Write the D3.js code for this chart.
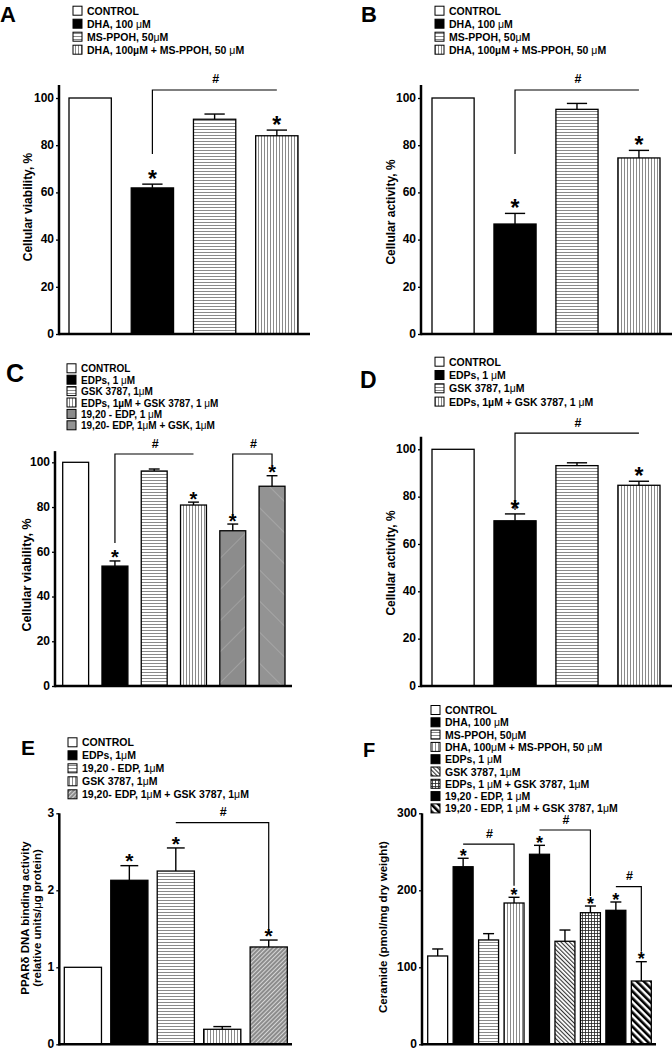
<!DOCTYPE html>
<html><head><meta charset="utf-8">
<script src="https://cdn.jsdelivr.net/npm/d3@7"></script>
<style>
body{margin:0;background:#fff}
svg{display:block}
text{font-family:"Liberation Sans",Arial,Helvetica,sans-serif;font-weight:bold;fill:#000}
</style>
</head><body>
<svg id="fig" width="672" height="1050"></svg>
<script>
// ---------------- DATA ----------------
// Greek mu (U+03BC) is drawn thin, micro sign (U+00B5) bold, as in the reference.
const aCategories = ["CONTROL", "DHA, 100 \u03bcM", "MS-PPOH, 50\u03bcM", "DHA, 100\u00b5M + MS-PPOH, 50 \u03bcM"];
const aValues = [100, 61.9, 91.0, 84.0];
const aErrors = [0, 1.6, 2.2, 2.4];
const aStars = [false, true, false, true];
const aBrackets = [[1, 3, 103.4, 76.3, null]];

const bCategories = ["CONTROL", "DHA, 100 \u03bcM", "MS-PPOH, 50\u03bcM", "DHA, 100\u00b5M + MS-PPOH, 50 \u03bcM"];
const bValues = [100, 46.6, 95.2, 74.6];
const bErrors = [0, 4.5, 2.5, 3.2];
const bStars = [false, true, false, true];
const bBrackets = [[1, 3, 103.4, 76.3, null]];

const cCategories = ["CONTROL", "EDPs, 1 \u03bcM", "GSK 3787, 1\u03bcM", "EDPs, 1\u00b5M + GSK 3787, 1 \u03bcM", "19,20 - EDP, 1 \u03bcM", "19,20- EDP, 1\u03bcM + GSK, 1\u03bcM"];
const cValues = [100, 53.6, 96.1, 80.9, 69.4, 89.3];
const cErrors = [0, 2.3, 0.9, 1.3, 3.0, 4.7];
const cStars = [false, true, false, true, true, true];
const cBrackets = [[1, 3, 103.7, 63.9, null], [4, 5, 103.7, 75.5, 98.8]];

const dCategories = ["CONTROL", "EDPs, 1 \u03bcM", "GSK 3787, 1\u03bcM", "EDPs, 1\u00b5M + GSK 3787, 1 \u03bcM"];
const dValues = [100, 69.8, 93.1, 84.8];
const dErrors = [0, 2.9, 1.2, 1.7];
const dStars = [false, true, false, true];
const dBrackets = [[1, 3, 106.8, 74.4, null]];

const eCategories = ["CONTROL", "EDPs, 1\u03bcM", "19,20 - EDP, 1\u03bcM", " GSK 3787, 1\u03bcM", "19,20- EDP, 1\u03bcM + GSK 3787, 1\u03bcM"];
const eValues = [1.0, 2.13, 2.25, 0.195, 1.264];
const eErrors = [0, 0.19, 0.30, 0.035, 0.09];
const eStars = [false, true, true, false, true];
const eBrackets = [[2, 4, 2.88, null, 1.47]];

const fCategories = ["CONTROL", "DHA, 100 \u03bcM", "MS-PPOH, 50\u03bcM", "DHA, 100\u03bcM + MS-PPOH, 50 \u03bcM", "EDPs, 1 \u03bcM", "GSK 3787, 1\u03bcM", "EDPs, 1 \u03bcM + GSK 3787, 1\u03bcM", "19,20 - EDP, 1 \u03bcM", "19,20 - EDP, 1 \u03bcM + GSK 3787, 1\u03bcM"];
const fValues = [114.7, 230.6, 135.5, 183.5, 246.8, 133.8, 170.9, 174.0, 82.2];
const fErrors = [9.1, 11.0, 8.2, 7.4, 11.6, 14.6, 8.7, 10.8, 25.1];
const fStars = [false, true, false, true, true, false, true, true, true];
const fBrackets = [[1, 3, 260, null, 206], [4, 6, 278.3, null, 192.6], [7, 8, 204.7, null, 120.3]];

const percentTicks = [0, 20, 40, 60, 80, 100];
const eTicks = [0, 1, 2, 3];
const fTicks = [0, 100, 200, 300];

// ---------------- STYLES (fills per bar) ----------------
const fourFills = ["white", "black", "hlines", "vlines"];
const cFills = ["white", "black", "hlines", "vlines", "grayDark", "grayMid"];
const eFills = ["white", "black", "hlines", "vlines", "diagGray"];
const fFills = ["white", "black", "hlines", "vlines", "black", "diagThin", "grid", "black", "boldStripes"];

// ---------------- SVG / PATTERNS ----------------
const svg = d3.select("#fig");
const defs = svg.append("defs");

function pat(id, w, h, transform) {
  const p = defs.append("pattern").attr("id", id).attr("patternUnits", "userSpaceOnUse")
    .attr("width", w).attr("height", h);
  if (transform) p.attr("patternTransform", transform);
  return p;
}
{
  let p = pat("hlines", 4, 3);
  p.append("rect").attr("width", 4).attr("height", 3).attr("fill", "#fff");
  p.append("rect").attr("y", 0).attr("width", 4).attr("height", 1).attr("fill", "#8a8a8a");
  p = pat("vlines", 3, 4);
  p.append("rect").attr("width", 3).attr("height", 4).attr("fill", "#fff");
  p.append("rect").attr("x", 0).attr("width", 1).attr("height", 4).attr("fill", "#8a8a8a");
  p = pat("grayDark", 22, 22, "rotate(45)");
  p.append("rect").attr("width", 22).attr("height", 22).attr("fill", "#8c8c8c");
  p.append("rect").attr("width", 0.5).attr("height", 22).attr("fill", "#b4b4b4");
  p = pat("grayMid", 22, 22, "rotate(-45)");
  p.append("rect").attr("width", 22).attr("height", 22).attr("fill", "#939393");
  p.append("rect").attr("width", 0.5).attr("height", 22).attr("fill", "#bababa");
  p = pat("diagGray", 3, 3, "rotate(45)");
  p.append("rect").attr("width", 3).attr("height", 3).attr("fill", "#8c8c8c");
  p.append("rect").attr("width", 1).attr("height", 3).attr("fill", "#d6d6d6");
  p = pat("diagThin", 3, 3, "rotate(-45)");
  p.append("rect").attr("width", 3).attr("height", 3).attr("fill", "#fff");
  p.append("rect").attr("width", 1.1).attr("height", 3).attr("fill", "#333");
  p = pat("grid", 3, 3);
  p.append("rect").attr("width", 3).attr("height", 3).attr("fill", "#fff");
  p.append("rect").attr("width", 3).attr("height", 0.8).attr("fill", "#222");
  p.append("rect").attr("width", 0.8).attr("height", 3).attr("fill", "#222");
  p = pat("boldStripes", 5, 5, "rotate(-45)");
  p.append("rect").attr("width", 5).attr("height", 5).attr("fill", "#fff");
  p.append("rect").attr("width", 2.6).attr("height", 5).attr("fill", "#000");
}
function fillOf(k) {
  if (k === "white") return "#fff";
  if (k === "black") return "#000";
  return "url(#" + k + ")";
}

// write a label with thin Greek mu
function richText(sel, str) {
  const parts = str.split(/(\u03bc)/);
  parts.forEach(s => {
    if (!s) return;
    const t = sel.append("tspan").text(s);
    if (s === "\u03bc") t.style("font-weight", "normal");
  });
}

// ---------------- PANEL DRAWER ----------------
function drawPanel(cfg) {
  const g = svg.append("g");
  const y = d3.scaleLinear().domain([0, cfg.maxTick]).range([cfg.yBase, cfg.yMax]);
  const x = d3.scaleBand().domain(cfg.categories).range(cfg.barRange)
    .paddingInner(cfg.padInner).paddingOuter(0);
  const bw = x.bandwidth();
  const rows = cfg.categories.map((c, i) => ({
    cat: c, v: cfg.values[i], e: cfg.errors[i], star: cfg.stars[i], fill: cfg.fills[i]
  }));

  // bars
  g.selectAll("rect.bar").data(rows).join("rect").attr("class", "bar")
    .attr("x", d => x(d.cat)).attr("width", bw)
    .attr("y", d => y(d.v)).attr("height", d => y(0) - y(d.v))
    .attr("fill", d => fillOf(d.fill)).attr("stroke", "#000").attr("stroke-width", 1.3);

  // error bars
  const eb = rows.filter(d => d.e > 0);
  g.selectAll("line.stem").data(eb).join("line")
    .attr("x1", d => x(d.cat) + bw / 2).attr("x2", d => x(d.cat) + bw / 2)
    .attr("y1", d => y(d.v)).attr("y2", d => y(d.v + d.e))
    .attr("stroke", "#000").attr("stroke-width", 1.4);
  g.selectAll("line.cap").data(eb).join("line")
    .attr("x1", d => x(d.cat) + bw / 2 - bw * cfg.capFrac / 2)
    .attr("x2", d => x(d.cat) + bw / 2 + bw * cfg.capFrac / 2)
    .attr("y1", d => y(d.v + d.e)).attr("y2", d => y(d.v + d.e))
    .attr("stroke", "#000").attr("stroke-width", 1.4);

  // stars
  g.selectAll("text.star").data(rows.filter(d => d.star)).join("text")
    .attr("x", d => x(d.cat) + bw / 2).attr("y", d => y(d.v + d.e) + cfg.starDy)
    .attr("text-anchor", "middle").style("font-size", cfg.starSize + "px").text("*");

  // brackets
  cfg.brackets.forEach(b => {
    const xl = x(cfg.categories[b[0]]) + bw / 2, xr = x(cfg.categories[b[1]]) + bw / 2;
    const yl = y(b[2]);
    const p = d3.path();
    p.moveTo(xl, b[3] != null ? y(b[3]) : yl);
    p.lineTo(xl, yl); p.lineTo(xr, yl);
    if (b[4] != null) p.lineTo(xr, y(b[4]));
    g.append("path").attr("d", p.toString()).attr("fill", "none")
      .attr("stroke", "#000").attr("stroke-width", 1.2);
    g.append("text").attr("x", (xl + xr) / 2 + 1).attr("y", yl - 6.5)
      .attr("text-anchor", "middle").style("font-size", "12.5px").text("#");
  });

  // axes
  const ax = g.append("g").attr("transform", `translate(${cfg.axisX},0)`)
    .call(d3.axisLeft(y).tickValues(cfg.ticks).tickFormat(d3.format("d"))
      .tickSize(3).tickSizeOuter(0).tickPadding(2));
  ax.select(".domain").remove();
  ax.selectAll(".tick line").attr("stroke", "#000").attr("stroke-width", 1.3);
  ax.selectAll(".tick text").attr("dy", "0.27em").style("font-size", "12px")
    .style("font-family", '"Liberation Sans",Arial,sans-serif').style("font-weight", "bold").attr("fill", "#000");
  g.append("line").attr("x1", cfg.axisX).attr("x2", cfg.axisX)
    .attr("y1", y(0) + 1.2).attr("y2", y(cfg.axisTop))
    .attr("stroke", "#000").attr("stroke-width", 2.5);
  g.append("line").attr("x1", cfg.axisX).attr("x2", cfg.xEnd)
    .attr("y1", y(0)).attr("y2", y(0))
    .attr("stroke", "#000").attr("stroke-width", 2.5);

  // y label
  cfg.yLabel.forEach((t, i) => {
    const tx = g.append("text")
      .attr("transform", `translate(${cfg.yLabelX[i]},${cfg.yLabelY}) rotate(-90)`)
      .attr("text-anchor", "middle").style("font-size", cfg.yLabelSize + "px");
    richText(tx, t);
  });

  // legend
  const lg = g.append("g");
  rows.forEach((d, i) => {
    const cy = cfg.legY + i * cfg.legStep;
    lg.append("rect").attr("x", cfg.legX).attr("y", cy - 4.5).attr("width", 9).attr("height", 9)
      .attr("fill", fillOf(d.fill)).attr("stroke", "#000").attr("stroke-width", 1);
    const t = lg.append("text").attr("x", cfg.legX + 14).attr("y", cy + 4)
      .style("font-size", cfg.legSize + "px");
    richText(t, d.cat);
  });

  // panel letter
  g.append("text").attr("x", cfg.letterX).attr("y", cfg.letterY)
    .style("font-size", cfg.letterSize + "px").text(cfg.letter);
}

drawPanel({ letter: "A", letterX: 0, letterY: 22, letterSize: 22,
  categories: aCategories, values: aValues, errors: aErrors, stars: aStars, brackets: aBrackets, fills: fourFills,
  ticks: percentTicks, maxTick: 100, axisTop: 105.5, yBase: 334, yMax: 98, axisX: 59, xEnd: 310,
  barRange: [69, 298], padInner: 0.32, capFrac: 0.48, starSize: 23, starDy: 3,
  yLabel: ["Cellular viability, %"], yLabelX: [32], yLabelY: 207, yLabelSize: 12,
  legX: 73, legY: 10.7, legStep: 13, legSize: 10.5 });

drawPanel({ letter: "B", letterX: 361, letterY: 22, letterSize: 22,
  categories: bCategories, values: bValues, errors: bErrors, stars: bStars, brackets: bBrackets, fills: fourFills,
  ticks: percentTicks, maxTick: 100, axisTop: 105.5, yBase: 334, yMax: 98, axisX: 421, xEnd: 672,
  barRange: [432, 660], padInner: 0.32, capFrac: 0.48, starSize: 23, starDy: 3,
  yLabel: ["Cellular activity, %"], yLabelX: [395], yLabelY: 212, yLabelSize: 12,
  legX: 435, legY: 10.7, legStep: 13, legSize: 10.5 });

drawPanel({ letter: "C", letterX: 6, letterY: 382, letterSize: 25,
  categories: cCategories, values: cValues, errors: cErrors, stars: cStars, brackets: cBrackets, fills: cFills,
  ticks: percentTicks, maxTick: 100, axisTop: 105, yBase: 686, yMax: 462.3, axisX: 55, xEnd: 292,
  barRange: [62.7, 285], padInner: 0.34, capFrac: 0.42, starSize: 20, starDy: 3.5,
  yLabel: ["Cellular viability, %"], yLabelX: [31], yLabelY: 575, yLabelSize: 12.5,
  legX: 67, legY: 368.3, legStep: 11.4, legSize: 10 });

drawPanel({ letter: "D", letterX: 360, letterY: 388, letterSize: 23,
  categories: dCategories, values: dValues, errors: dErrors, stars: dStars, brackets: dBrackets, fills: fourFills,
  ticks: percentTicks, maxTick: 100, axisTop: 105.3, yBase: 686, yMax: 449.3, axisX: 421, xEnd: 672,
  barRange: [432, 660], padInner: 0.32, capFrac: 0.48, starSize: 23, starDy: 3,
  yLabel: ["Cellular activity, %"], yLabelX: [395], yLabelY: 563, yLabelSize: 12,
  legX: 435, legY: 361.7, legStep: 13.3, legSize: 10.5 });

drawPanel({ letter: "E", letterX: 21, letterY: 755, letterSize: 21,
  categories: eCategories, values: eValues, errors: eErrors, stars: eStars, brackets: eBrackets, fills: eFills,
  ticks: eTicks, maxTick: 3, axisTop: 3, yBase: 1044.3, yMax: 813.3, axisX: 59.3, xEnd: 292,
  barRange: [64.3, 287.3], padInner: 0.2, capFrac: 0.48, starSize: 21, starDy: 2.7,
  yLabel: ["PPAR\u03b4 DNA binding activity", "(relative units/\u03bcg protein)"], yLabelX: [29, 41], yLabelY: 918, yLabelSize: 11.5,
  legX: 68, legY: 742.3, legStep: 13, legSize: 10.5 });

drawPanel({ letter: "F", letterX: 363, letterY: 757, letterSize: 20,
  categories: fCategories, values: fValues, errors: fErrors, stars: fStars, brackets: fBrackets, fills: fFills,
  ticks: fTicks, maxTick: 300, axisTop: 300, yBase: 1044.3, yMax: 813.3, axisX: 422, xEnd: 656,
  barRange: [427.7, 651.3], padInner: 0.216, capFrac: 0.55, starSize: 18, starDy: 3.7,
  yLabel: ["Ceramide (pmol/mg dry weight)"], yLabelX: [387], yLabelY: 927, yLabelSize: 11.5,
  legX: 431, legY: 710, legStep: 12.3, legSize: 10.5 });
</script>
</body></html>
